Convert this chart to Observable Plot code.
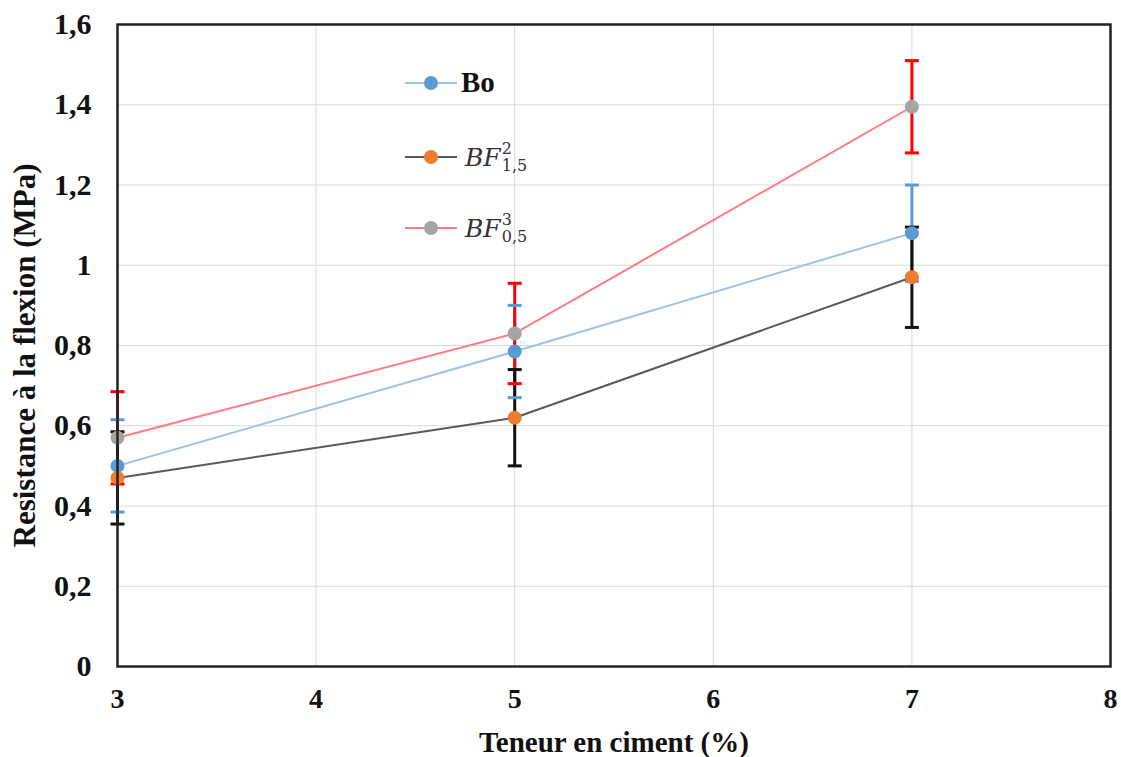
<!DOCTYPE html>
<html>
<head>
<meta charset="utf-8">
<script src="https://cdn.jsdelivr.net/npm/d3@7"></script>
<script src="https://cdn.jsdelivr.net/npm/@observablehq/plot@0.6"></script>
<style>
  html, body { margin: 0; padding: 0; background: #fff; }
  #wrap { position: relative; width: 1121px; height: 757px; font-family: "Liberation Serif", serif; }
  #wrap svg, #wrap svg text { font-family: "Liberation Serif", serif !important; }
  #legend { position: absolute; left: 405px; top: 66px; font-family: "Liberation Serif", serif; }
  .item { position: absolute; left: 0; display: flex; align-items: center; white-space: nowrap; }
  .item svg { display: block; }
  .lab { margin-left: 4px; font-size: 29px; color: #111; }
  .math { font-style: italic; font-family: "DejaVu Serif", serif; font-size: 25px; color: #333; display: inline-flex; align-items: center; margin-left: 8px; }
  .stack { display: inline-flex; flex-direction: column; font-style: normal; font-size: 16px; line-height: 17px; margin-left: 1px; }
</style>
</head>
<body>
<div id="wrap"></div>
<script>
// ---- data ----
const xValues = [3, 5, 7];
const seriesNames = ["Bo", "BF1,5^2", "BF0,5^3"];
const boValues = [0.50, 0.785, 1.08];
const boErrors = [0.115, 0.115, 0.12];
const bf15Values = [0.47, 0.62, 0.97];
const bf15Errors = [0.115, 0.12, 0.125];
const bf05Values = [0.57, 0.83, 1.395];
const bf05Errors = [0.115, 0.125, 0.115];
const xTicks = [3, 4, 5, 6, 7, 8];
const yTicks = [0, 0.2, 0.4, 0.6, 0.8, 1.0, 1.2, 1.4, 1.6];

const lineColors = {"Bo": "#9dc3e6", "BF1,5^2": "#595959", "BF0,5^3": "#ff7c80"};
const dotColors = {"Bo": "#5b9bd5", "BF1,5^2": "#ed7d31", "BF0,5^3": "#a5a5a5"};
const errColors = {"Bo": "#5b9bd5", "BF1,5^2": "#111111", "BF0,5^3": "#ff0000"};

const allValues = [boValues, bf15Values, bf05Values];
const allErrors = [boErrors, bf15Errors, bf05Errors];
const rows = [];
seriesNames.forEach((s, i) => xValues.forEach((x, j) => rows.push({
  series: s, x, y: allValues[i][j], lo: allValues[i][j] - allErrors[i][j], hi: allValues[i][j] + allErrors[i][j]
})));

const capSymbol = { draw(ctx, size) { const r = Math.sqrt(size / Math.PI); ctx.moveTo(-r, 0); ctx.lineTo(r, 0); } };
const fmt = d => d === 0 ? "0" : String(+d.toFixed(1)).replace(".", ",");

const errOrder = ["Bo", "BF0,5^3", "BF1,5^2"];
const errRows = errOrder.flatMap(s => rows.filter(r => r.series === s));

const chart = Plot.plot({
  width: 1121,
  height: 757,
  marginLeft: 117,
  marginRight: 11,
  marginTop: 24,
  marginBottom: 91,
  style: { fontFamily: "'Liberation Serif', serif", background: "#fff" },
  x: { domain: [3, 8], ticks: xTicks, tickFormat: d => String(d), tickSize: 0, tickPadding: 24, label: null },
  y: { domain: [0, 1.6], ticks: yTicks, tickFormat: fmt, tickSize: 0, tickPadding: 24, label: null },
  marks: [
    Plot.gridX(xTicks.slice(1, -1), { stroke: "#d9d9d9", strokeOpacity: 1, strokeWidth: 1 }),
    Plot.gridY(yTicks.slice(1, -1), { stroke: "#d9d9d9", strokeOpacity: 1, strokeWidth: 1 }),
    Plot.ruleX(errRows, { x: "x", y1: "lo", y2: "hi", stroke: d => errColors[d.series], strokeWidth: 3 }),
    Plot.dot(errRows, { x: "x", y: "hi", symbol: capSymbol, r: 7, stroke: d => errColors[d.series], strokeWidth: 3, fill: "none" }),
    Plot.dot(errRows, { x: "x", y: "lo", symbol: capSymbol, r: 7, stroke: d => errColors[d.series], strokeWidth: 3, fill: "none" }),
    Plot.line(rows, { x: "x", y: "y", z: "series", stroke: d => lineColors[d.series], strokeWidth: 2 }),
    Plot.dot(rows, { x: "x", y: "y", r: 7, fill: d => dotColors[d.series], stroke: "none" }),
    Plot.frame({ stroke: "#222", strokeWidth: 2.5 }),
    Plot.axisX({ ticks: xTicks, tickFormat: d => String(d), tickSize: 0, tickPadding: 22, fontSize: 28, fontWeight: "bold", fill: "#111", label: null }),
    Plot.axisY({ ticks: yTicks, tickFormat: fmt, tickSize: 0, tickPadding: 26, fontSize: 30, fontWeight: "bold", fill: "#111", label: null }),
    Plot.text(["Teneur en ciment (%)"], { frameAnchor: "bottom", dy: 76, lineAnchor: "middle", fontSize: 29, fontWeight: "bold", fill: "#111" }),
    Plot.text(["Resistance à la flexion (MPa)"], { frameAnchor: "left", dx: -92, dy: 10, rotate: -90, textAnchor: "middle", fontSize: 31, fontWeight: "bold", fill: "#111" })
  ]
});

const wrap = document.getElementById("wrap");
wrap.appendChild(chart);

// legend
const legend = document.createElement("div");
legend.id = "legend";
const items = [
  { s: "Bo", top: 0, html: '<span class="lab" style="font-weight:bold">Bo</span>' },
  { s: "BF1,5^2", top: 74, html: '<span class="lab math">BF<span class="stack"><span>2</span><span>1,5</span></span></span>' },
  { s: "BF0,5^3", top: 145, html: '<span class="lab math">BF<span class="stack"><span>3</span><span>0,5</span></span></span>' }
];
items.forEach(it => {
  const d = document.createElement("div");
  d.className = "item";
  d.style.top = it.top + "px";
  d.innerHTML = `<svg width="52" height="20"><line x1="0" y1="10" x2="52" y2="10" stroke="${lineColors[it.s]}" stroke-width="2"/><circle cx="26" cy="10" r="7" fill="${dotColors[it.s]}"/></svg>` + it.html;
  legend.appendChild(d);
});
wrap.appendChild(legend);
</script>
</body>
</html>
